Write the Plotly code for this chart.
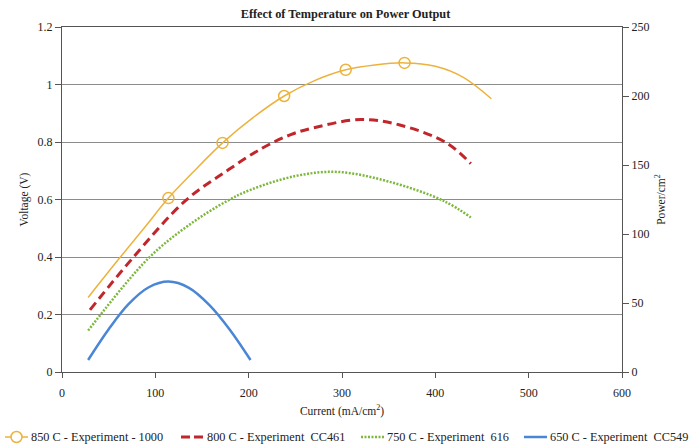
import plotly.graph_objects as go

# Current (mA/cm2) and power values (right axis)
i850 = [28, 61, 90, 114, 140, 172, 205, 238, 270, 304, 335, 367, 400, 430, 460]
p850 = [54, 82, 106, 126, 144.5, 166, 184.5, 200, 211, 219, 222.5, 224, 221.5, 213.5, 198]
m850_i = [114, 172, 238, 304, 367]
m850_p = [126, 166, 200, 219, 224]

i800 = [30, 75, 132, 175, 214, 245, 270, 320, 362, 412, 438]
p800 = [45, 82, 124, 145, 162, 172, 177, 183, 179, 166, 151]

i750 = [28, 92, 135, 177, 202, 250, 295, 350, 409, 438]
p750 = [30, 82, 106, 124, 132, 142, 145, 138, 124, 112]

i650 = [28, 50, 71, 93, 114, 136, 158, 180, 202]
p650 = [8.7, 31, 49, 61.4, 65.5, 61, 48.5, 30.5, 8.7]

names = ["850 C - Experiment - 1000",
         "800 C - Experiment\u00a0\u00a0CC461",
         "750 C - Experiment\u00a0\u00a0616",
         "650 C - Experiment\u00a0\u00a0CC549"]

ORANGE = "#EDB23C"
RED = "#C0262B"
GREEN = "#7DB83C"
BLUE = "#4A86D6"
FONT = "Liberation Serif"

# plot area in pixels (for placing the hand-made legend)
L, R, T, B = 62, 622, 27, 372
def px(x):
    return (x - L) / (R - L)
def py(y):
    return (B - y) / (B - T)

fig = go.Figure()

# invisible trace so the voltage axis is drawn
fig.add_trace(go.Scatter(x=[None], y=[None], mode="lines", showlegend=False,
                         hoverinfo="skip", yaxis="y"))
fig.add_trace(go.Scatter(x=i850, y=p850, mode="lines", name=names[0],
                         line=dict(color=ORANGE, width=1.5, shape="spline"), yaxis="y2"))
fig.add_trace(go.Scatter(x=m850_i, y=m850_p, mode="markers", showlegend=False,
                         marker=dict(symbol="circle-open", size=11, color=ORANGE, line=dict(width=1.5)),
                         yaxis="y2"))
fig.add_trace(go.Scatter(x=i800, y=p800, mode="lines", name=names[1],
                         line=dict(color=RED, width=3, dash="9px,5px", shape="spline"), yaxis="y2"))
fig.add_trace(go.Scatter(x=i750, y=p750, mode="lines", name=names[2],
                         line=dict(color=GREEN, width=2.5, dash="2px,1.5px", shape="spline"), yaxis="y2"))
fig.add_trace(go.Scatter(x=i650, y=p650, mode="lines", name=names[3],
                         line=dict(color=BLUE, width=2.5, shape="spline"), yaxis="y2"))

# hand-made legend (one row along the bottom)
LY = 437
sym = [(5, 28), (181, 204), (361, 384), (524, 547)]
styles = [dict(color=ORANGE, width=1.5), dict(color=RED, width=3, dash="9px,4px"),
          dict(color=GREEN, width=2.5, dash="2px,1.5px"), dict(color=BLUE, width=2.5)]
shapes = []
annotations = []
for (x0, x1), st, nm in zip(sym, styles, names):
    shapes.append(dict(type="line", xref="paper", yref="paper", x0=px(x0), x1=px(x1),
                       y0=py(LY), y1=py(LY), line=st))
    annotations.append(dict(text=nm, xref="paper", yref="paper", x=px(x1 + 2), y=py(LY),
                            xanchor="left", yanchor="middle", showarrow=False, borderpad=0,
                            font=dict(size=12.3, family=FONT, color="#222")))
cx = (sym[0][0] + sym[0][1]) / 2
shapes.append(dict(type="circle", xref="paper", yref="paper", x0=px(cx - 5.5), x1=px(cx + 5.5),
                   y0=py(LY + 5.5), y1=py(LY - 5.5), line=dict(color=ORANGE, width=1.5),
                   fillcolor="white"))

fig.update_layout(
    width=691, height=445,
    margin=dict(l=L, r=691 - R, t=T, b=445 - B),
    paper_bgcolor="white", plot_bgcolor="white",
    font=dict(family=FONT, size=12, color="#222"),
    title=dict(text="<b>Effect of Temperature on Power Output</b>", x=0.5, xanchor="center",
               y=1 - 14 / 445, yanchor="middle", font=dict(size=12.3, family=FONT)),
    xaxis=dict(range=[0, 600], dtick=100, tick0=0, showgrid=False, zeroline=False,
               showline=True, linecolor="#555", linewidth=1, mirror=True,
               ticks="outside", ticklen=5, tickcolor="#555", ticklabelstandoff=5,
               title=dict(text="Current (mA/cm<sup>2</sup>)", font=dict(size=11.5), standoff=7)),
    yaxis=dict(range=[0, 1.2], dtick=0.2, tick0=0, showgrid=True, gridcolor="#8c8c8c", gridwidth=1.3,
               zeroline=False, showline=True, linecolor="#555", linewidth=1,
               ticks="outside", ticklen=6, tickcolor="#555",
               title=dict(text="Voltage (V)", font=dict(size=11.5), standoff=6)),
    yaxis2=dict(range=[0, 250], dtick=50, tick0=0, overlaying="y", side="right",
                showgrid=False, zeroline=False, showline=True, linecolor="#555", linewidth=1,
                ticks="outside", ticklen=6, tickcolor="#555",
                title=dict(text="Power/cm<sup>2</sup>", font=dict(size=11.5), standoff=8)),
    showlegend=False,
    shapes=shapes,
    annotations=annotations,
)

fig.write_html("out.html")
